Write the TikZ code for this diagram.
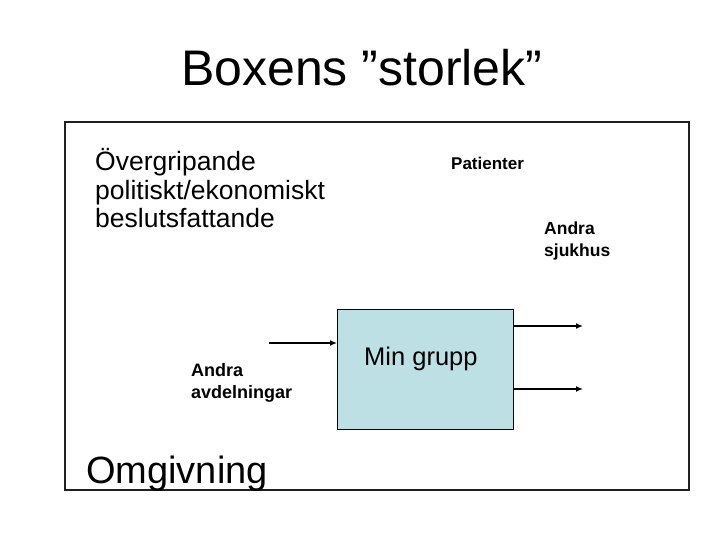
\documentclass[tikz,border=0pt]{standalone}
\usepackage{fontspec}
\setmainfont{Liberation Sans}
\usetikzlibrary{positioning, arrows.meta, calc}
\usepackage{xcolor}
\definecolor{grpblue}{HTML}{BCE0E4}
\definecolor{framegray}{HTML}{202020}

\begin{document}
\begin{tikzpicture}[x=1pt, y=-1pt, inner sep=0pt,
    lbl/.style={anchor=base west, align=left},
    flow/.style={line width=1.8pt, -{Latex[length=7pt, width=6pt]}}]
    \useasboundingbox (0,0) rectangle (720,540);
    \draw[framegray, line width=1.2pt] (65,122) rectangle (689,490);
    \node[lbl, font=\fontsize{50}{56}\selectfont] (title) at (181,86) {Boxens ”storlek”};
    \node[lbl, font=\fontsize{26.5}{28.5}\selectfont] (polit) at (95,228)
      {Övergripande\\politiskt/ekonomiskt\\beslutsfattande};
    \node[lbl, font=\fontsize{17}{20}\selectfont\bfseries] (pat) at (451,170) {Patienter};
    \node[lbl, font=\fontsize{17.5}{22}\selectfont\bfseries] (sjuk) at (544,256) {Andra\\sjukhus};
    \node[lbl, font=\fontsize{18}{22}\selectfont\bfseries] (avd) at (191,398) {Andra\\avdelningar};
    \node[lbl, font=\fontsize{38}{42}\selectfont] (omg) at (86,483) {Omgivning};
    % min grupp
    \node[draw=black, fill=grpblue, line width=0.8pt, minimum width=176pt,
      minimum height=120pt, anchor=north west] (grupp) at (337,309) {};
    \node[lbl, font=\fontsize{25.5}{28}\selectfont] (gtext) at (364,365) {Min grupp};
    \coordinate (in) at (269,343);
    \coordinate (ut1) at (583,326);
    \coordinate (ut2) at (583,389);
    \draw[flow] (in) -- (in -| grupp.west);
    \draw[flow] (ut1 -| grupp.east) -- (ut1);
    \draw[flow] (ut2 -| grupp.east) -- (ut2);
  \end{tikzpicture}
\end{document}
